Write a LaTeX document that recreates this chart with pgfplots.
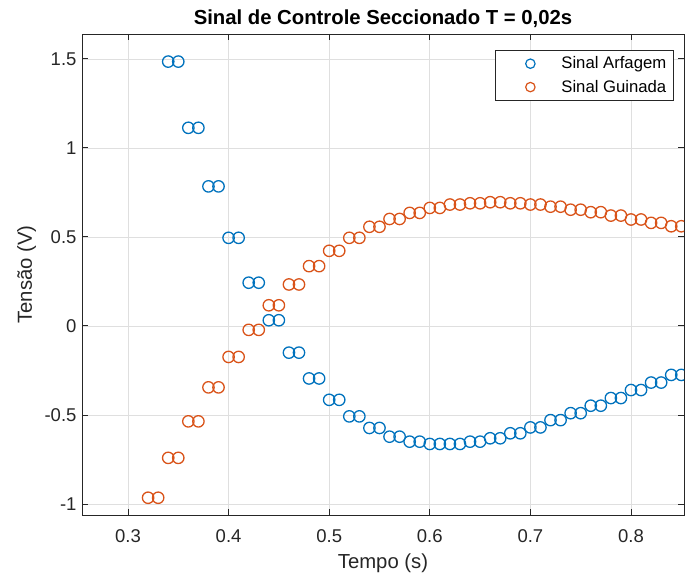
\documentclass[border=0pt]{standalone}
\usepackage{fontspec}
\setmainfont{Liberation Sans}
\usepackage{pgfplots}
\pgfplotsset{compat=1.18}
\definecolor{mblue}{RGB}{0,114,189}
\definecolor{morange}{RGB}{217,83,25}
\definecolor{maxis}{RGB}{38,38,38}
\definecolor{mgrid}{RGB}{223,223,223}
\begin{document}
\begin{tikzpicture}
\begin{axis}[
  scale only axis,
  width=602pt, height=481pt,
  xmin=0.2543, xmax=0.8527,
  ymin=-1.062, ymax=1.640,
  xtick={0.3,0.4,...,0.8},
  ytick={-1,-0.5,0,0.5,1,1.5},
  xticklabels={0.3,0.4,0.5,0.6,0.7,0.8},
  yticklabels={-1,-0.5,0,0.5,1,1.5},
  tick align=inside,
  major tick length=6pt,
  axis line style={maxis, line width=0.9pt},
  every tick/.style={maxis, line width=0.9pt},
  grid=major,
  major grid style={mgrid, line width=0.7pt},
  ticklabel style={font=\fontsize{18.5}{22}\selectfont, text=maxis},
  xticklabel style={yshift=-11pt},
  yticklabel style={xshift=-2pt},
  /pgf/number format/assume math mode=true,
  xlabel={Tempo (s)},
  xlabel style={font=\fontsize{20.3}{24}\selectfont, text=maxis, at={(axis description cs:0.5,0)}, anchor=base, yshift=-53.5pt},
  title={Sinal de Controle Seccionado T = 0,02s},
  title style={font=\bfseries\fontsize{20.3}{24}\selectfont, at={(axis description cs:0.5,1)}, anchor=base, yshift=3.5pt},
  clip marker paths=true,
  legend style={at={(rel axis cs:1,1)}, anchor=north east, xshift=-10pt, yshift=-16pt,
    draw=maxis, line width=0.8pt, fill=white, text=black,
    font=\fontsize{16.7}{20}\selectfont,
    inner xsep=7.3pt, inner ysep=0pt,
    nodes={inner sep=0pt},
    row sep=-3.2pt,
    cells={anchor=west}},
  legend image code/.code={
    \path[draw=none, fill=none] (0pt,-13.3pt) (58.4pt,13.3pt);
    \draw[#1, mark size=4.7pt, line width=1.2pt] plot coordinates {(27.4pt,0pt)};
  },
]
\addplot[only marks, mark=o, mark size=5.7pt, mblue, line width=1.3pt] coordinates {
(0.34,1.485) (0.35,1.485)
(0.36,1.113) (0.37,1.113)
(0.38,0.784) (0.39,0.784)
(0.40,0.495) (0.41,0.495)
(0.42,0.243) (0.43,0.243)
(0.44,0.032) (0.45,0.032)
(0.46,-0.150) (0.47,-0.150)
(0.48,-0.295) (0.49,-0.295)
(0.50,-0.415) (0.51,-0.415)
(0.52,-0.508) (0.53,-0.508)
(0.54,-0.573) (0.55,-0.573)
(0.56,-0.622) (0.57,-0.622)
(0.58,-0.650) (0.59,-0.650)
(0.60,-0.663) (0.61,-0.663)
(0.62,-0.663) (0.63,-0.663)
(0.64,-0.650) (0.65,-0.650)
(0.66,-0.631) (0.67,-0.631)
(0.68,-0.603) (0.69,-0.603)
(0.70,-0.570) (0.71,-0.570)
(0.72,-0.529) (0.73,-0.529)
(0.74,-0.490) (0.75,-0.490)
(0.76,-0.448) (0.77,-0.448)
(0.78,-0.405) (0.79,-0.405)
(0.80,-0.360) (0.81,-0.360)
(0.82,-0.318) (0.83,-0.318)
(0.84,-0.275) (0.85,-0.275)
};
\addlegendentry{Sinal Arfagem}
\addplot[only marks, mark=o, mark size=5.7pt, morange, line width=1.3pt] coordinates {
(0.32,-0.965) (0.33,-0.965)
(0.34,-0.741) (0.35,-0.741)
(0.36,-0.536) (0.37,-0.536)
(0.38,-0.345) (0.39,-0.345)
(0.40,-0.174) (0.41,-0.174)
(0.42,-0.022) (0.43,-0.022)
(0.44,0.116) (0.45,0.116)
(0.46,0.233) (0.47,0.233)
(0.48,0.336) (0.49,0.336)
(0.50,0.422) (0.51,0.422)
(0.52,0.495) (0.53,0.495)
(0.54,0.557) (0.55,0.557)
(0.56,0.601) (0.57,0.601)
(0.58,0.635) (0.59,0.635)
(0.60,0.663) (0.61,0.663)
(0.62,0.682) (0.63,0.682)
(0.64,0.689) (0.65,0.689)
(0.66,0.695) (0.67,0.695)
(0.68,0.689) (0.69,0.689)
(0.70,0.682) (0.71,0.682)
(0.72,0.670) (0.73,0.670)
(0.74,0.653) (0.75,0.653)
(0.76,0.639) (0.77,0.639)
(0.78,0.620) (0.79,0.620)
(0.80,0.598) (0.81,0.598)
(0.82,0.579) (0.83,0.579)
(0.84,0.560) (0.85,0.560)
};
\addlegendentry{Sinal Guinada}
\end{axis}
\node[rotate=90, anchor=base, font=\fontsize{20.3}{24}\selectfont, text=maxis, inner sep=0pt]
  at ([xshift=-50pt]current axis.west) {Tensão (V)};
\pgfresetboundingbox
\path ([shift={(-82pt,-59pt)}]current axis.south west) rectangle ([shift={(1pt,34pt)}]current axis.north east);
\end{tikzpicture}
\end{document}
